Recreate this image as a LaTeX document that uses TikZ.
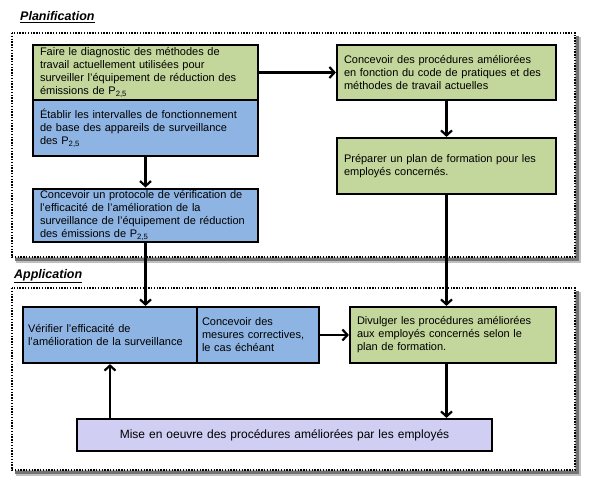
\documentclass[tikz,border=0pt]{standalone}
\usepackage{fontspec}
\setmainfont{Liberation Sans}
\usetikzlibrary{arrows.meta}
\definecolor{grn}{RGB}{195,214,155}
\definecolor{blu}{RGB}{142,180,227}
\definecolor{lav}{RGB}{208,206,242}
\begin{document}
\begin{tikzpicture}[x=1pt,y=-1pt,
  box/.style={draw=black,line width=2.2pt,inner xsep=7pt,inner ysep=2pt,align=left,
    font=\fontsize{11}{13}\selectfont,anchor=center},
  frame/.style={draw=black,line width=2.4pt,dash pattern=on 1.4pt off 1.4pt},
  shadow/.style={draw=black!55,line width=3.5pt},
  shadowsoft/.style={draw=black!25,line width=6pt},
  arr/.style={draw=black,line width=2.4pt,-{Straight Barb[length=5pt,width=11pt,line width=2.2pt]}},
  ttl/.style={font=\fontsize{12.5}{14}\selectfont\bfseries\itshape,anchor=west,inner sep=0pt}]
\useasboundingbox (0,0) rectangle (595,488);
% frames
\draw[shadowsoft] (16,260) -- (578,260) -- (578,37);
\draw[shadow] (15,259.5) -- (577.5,259.5) -- (577.5,36);
\draw[frame] (12,33) rectangle (575,257);
\draw[shadowsoft] (16,473) -- (578,473) -- (578,292);
\draw[shadow] (15,472.5) -- (577.5,472.5) -- (577.5,291);
\draw[frame] (12,288) rectangle (575,470);
\node[ttl] (t1) at (20,17) {\underline{Planification}};
\node[ttl] (t2) at (14,276) {\underline{Application}};
% planning boxes
\node[box,fill=grn,minimum width=225pt,minimum height=55pt,text width=211pt] (A) at (145.5,72.5)
  {Faire le diagnostic des méthodes de\\travail actuellement utilisées pour\\surveiller l’équipement de réduction des\\émissions de P\textsubscript{2,5}};
\node[box,fill=blu,minimum width=225pt,minimum height=56pt,text width=211pt] (B) at (145.5,128)
  {Établir les intervalles de fonctionnement\\de base des appareils de surveillance\\des P\textsubscript{2,5}};
\node[box,fill=blu,minimum width=225pt,minimum height=47pt,text width=211pt] (C) at (145.5,215.5)
  {Concevoir un protocole de vérification de\\l’efficacité de l’amélioration de la\\surveillance de l’équipement de réduction\\des émissions de P\textsubscript{2,5}};
\node[box,fill=grn,minimum width=219pt,minimum height=55pt,text width=205pt] (D) at (446.5,72.5)
  {Concevoir des procédures améliorées\\en fonction du code de pratiques et des\\méthodes de travail  actuelles};
\node[box,fill=grn,minimum width=219pt,minimum height=56pt,text width=205pt] (E) at (446.5,166)
  {Préparer un plan de formation pour les\\employés concernés.};
% application boxes
\node[box,fill=blu,minimum width=174pt,minimum height=56pt,text width=164pt,inner xsep=5pt] (V) at (110,335)
  {Vérifier l’efficacité de\\l’amélioration de la surveillance};
\node[box,fill=blu,minimum width=122pt,minimum height=56pt,text width=112pt,inner xsep=5pt] (W) at (258,335)
  {Concevoir des\\mesures correctives,\\le cas échéant};
\node[box,fill=grn,minimum width=206pt,minimum height=56pt,text width=192pt] (F) at (453,335)
  {Divulger les procédures améliorées\\aux employés concernés selon le\\plan de formation.};
\node[box,fill=lav,minimum width=415pt,minimum height=32pt,align=center,text width=401pt,
  font=\fontsize{12}{14}\selectfont] (M) at (284.5,435)
  {Mise en oeuvre des procédures améliorées par les employés};
\coordinate (mv) at (110,0);
% connectors
\draw[arr] (B.south) -- (C.north);
\draw[arr] (C.south) -- (C.south |- V.north);
\draw[arr] (A.east) -- (D.west);
\draw[arr] (D.south) -- (E.north);
\draw[arr] (E.south) -- (E.south |- F.north);
\draw[arr] (W.east) -- (F.west);
\draw[arr] (F.south -| E.south) -- (E.south |- M.north);
\draw[arr] (M.north -| mv) -- (V.south -| mv);
\end{tikzpicture}
\end{document}
